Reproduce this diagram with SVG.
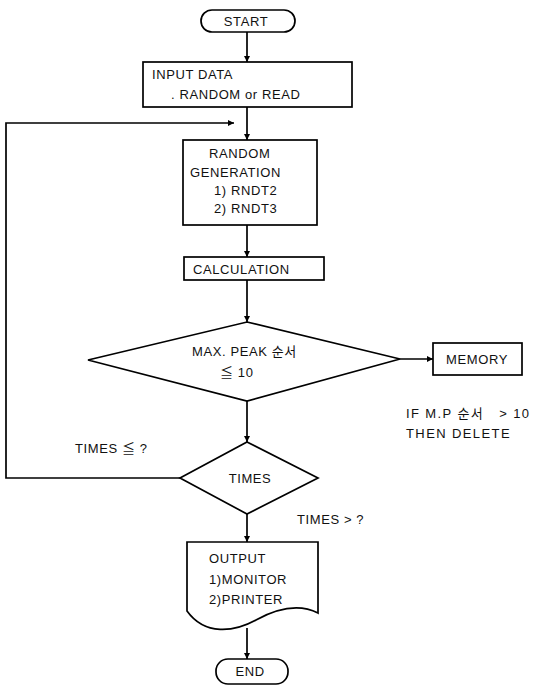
<svg xmlns="http://www.w3.org/2000/svg" width="537" height="694" viewBox="0 0 537 694">
  <defs>
    <marker id="arrow" viewBox="0 0 10 10" refX="10" refY="5" markerWidth="6" markerHeight="8" markerUnits="userSpaceOnUse" orient="auto">
      <path d="M0,0 L10,5 L0,10 z" fill="#000"/>
    </marker>
    <style>
      .shape { fill: #fff; stroke: #000; stroke-width: 1.7; }
      .flow { fill: none; stroke: #000; stroke-width: 1.7; marker-end: url(#arrow); }
      text { font-family: "Liberation Sans", "Noto Sans CJK KR", sans-serif; font-size: 13px; fill: #111; letter-spacing: 0.6px; }
      .mid { text-anchor: middle; }
      .note { letter-spacing: 1.4px; white-space: pre; }
    </style>
  </defs>
  <rect width="537" height="694" fill="#fff"/>

  <!-- connectors and their labels -->
  <g id="connectors">
    <line class="flow" x1="247" y1="32" x2="247" y2="62"/>
    <line class="flow" x1="247" y1="107" x2="247" y2="140"/>
    <path class="flow" d="M180,478 H6 V123 H234"/>
    <line class="flow" x1="247" y1="225" x2="247" y2="257"/>
    <line class="flow" x1="247" y1="280" x2="247" y2="322"/>
    <line class="flow" x1="400" y1="359" x2="433" y2="359"/>
    <line class="flow" x1="247" y1="401" x2="247" y2="442"/>
    <line class="flow" x1="247" y1="514" x2="247" y2="542"/>
    <line class="flow" x1="247" y1="628" x2="247" y2="659"/>
    <text x="75" y="453">TIMES ≦ ?</text>
    <text x="297" y="524">TIMES &gt; ?</text>
  </g>

  <g id="start">
    <rect class="shape" x="201" y="10" width="94" height="22" rx="11"/>
    <text class="mid" x="246" y="26">START</text>
  </g>

  <g id="input">
    <rect class="shape" x="143" y="62" width="209" height="45"/>
    <text x="152" y="79">INPUT DATA</text>
    <text x="171" y="99">. RANDOM or READ</text>
  </g>

  <g id="random">
    <rect class="shape" x="183" y="140" width="134" height="85"/>
    <text x="209" y="158">RANDOM</text>
    <text x="190" y="177">GENERATION</text>
    <text x="214" y="195">1) RNDT2</text>
    <text x="214" y="213">2) RNDT3</text>
  </g>

  <g id="calculation">
    <rect class="shape" x="184" y="257" width="140" height="23"/>
    <text x="193" y="274">CALCULATION</text>
  </g>

  <g id="peak">
    <polygon class="shape" points="247,322 400,359 247,401 88,360"/>
    <text x="192" y="356">MAX. PEAK 순서</text>
    <text x="220" y="377">≦ 10</text>
  </g>

  <g id="memory">
    <rect class="shape" x="433" y="343" width="89" height="32"/>
    <text class="mid" x="477" y="364">MEMORY</text>
  </g>

  <g id="delete-note">
    <text class="note" x="406" y="418" xml:space="preserve">IF M.P 순서   &gt; 10</text>
    <text class="note" x="406" y="438">THEN DELETE</text>
  </g>

  <g id="times">
    <polygon class="shape" points="247,442 318,478 247,514 180,478"/>
    <text class="mid" x="250" y="483">TIMES</text>
  </g>

  <g id="output">
    <path class="shape" d="M187,542 H318 V613 C300,604 278,608 256,620 C234,632 205,636 187,611 Z"/>
    <text x="209" y="563">OUTPUT</text>
    <text x="209" y="584">1)MONITOR</text>
    <text x="209" y="604">2)PRINTER</text>
  </g>

  <g id="end">
    <rect class="shape" x="216" y="659" width="72" height="25" rx="12"/>
    <text class="mid" x="250" y="676">END</text>
  </g>
</svg>
